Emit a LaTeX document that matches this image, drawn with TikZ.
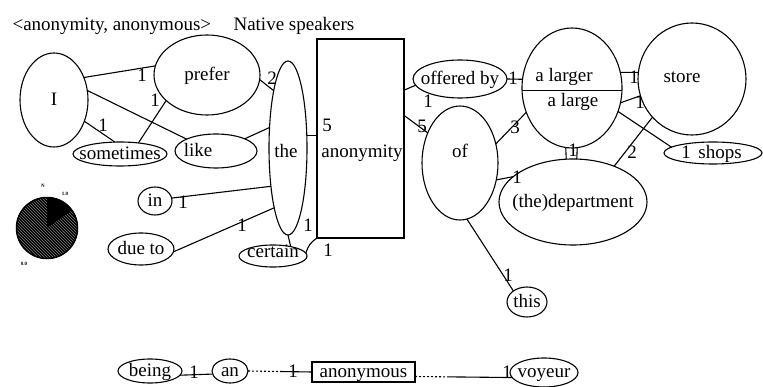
\documentclass[tikz,border=0pt]{standalone}
\usepackage{fontspec}
\setmainfont{Liberation Serif}
\usetikzlibrary{shapes.geometric,calc,patterns}

% Text of a shape node: takes no room, so the shape keeps its given size;
% optional horizontal and vertical offsets from the node centre.
\NewDocumentCommand\ctext{O{0pt}O{0pt}m}{%
  \kern#1\makebox[0pt]{\raisebox{\dimexpr#2-0.6ex\relax}[0pt][0pt]{#3}}\kern-#1}

\tikzset{
  ell/.style 2 args={ellipse, draw, inner sep=0pt, outer sep=0pt,
    minimum width=#1, minimum height=#2},
  box/.style 2 args={rectangle, draw, inner sep=0pt, outer sep=0pt,
    minimum width=#1, minimum height=#2},
  txt/.style={inner sep=0pt},
  num/.style={inner sep=0pt},
  tiny label/.style={inner sep=0pt, font=\fontsize{5}{5}\selectfont\bfseries},
  dotpart/.style={dash pattern=on 2pt off 2pt},
}

\begin{document}
\begin{tikzpicture}[x=1pt, y=-1pt, line width=1.1pt,
  font=\fontsize{19}{22}\selectfont]
\useasboundingbox (0,0) rectangle (763,387);

% heading
\node[txt, anchor=west] (title) at (12,26) {<anonymity, anonymous>};
\node[txt, anchor=west] (native) at (233,26) {Native speakers};

% left cluster
\node[ell={68}{94}]  (I)         at (54,100)  {\ctext{I}};
\node[ell={106}{80}] (prefer)    at (207,75)  {\ctext{prefer}};
\node[ell={38}{174}] (the)       at (288,148) {\ctext[-2pt][-4pt]{the}};
\node[ell={94}{24}]  (sometimes) at (120,154) {\ctext{sometimes}};
\node[ell={82}{34}]  (like)      at (216,151) {\ctext[-18pt]{like}};
\node[ell={34}{28}]  (in)        at (155,201) {\ctext{in}};
\node[ell={66}{32}]  (dueto)     at (141,249) {\ctext{due to}};
\node[ell={68}{22}]  (certain)   at (273,256) {\ctext[0pt][4pt]{certain}};

% central box
\node[box={87}{199}] (anon) at (360.5,138.5) {};
\node[txt] (anontext) at (362,153) {anonymity};

% right cluster
\node[ell={94}{38}]   (offered) at (460,79)  {\ctext{offered by}};
\node[ell={76}{114}]  (of)      at (460,163) {\ctext[0pt][11pt]{of}};
\node[ell={100}{120}] (alarger) at (572,88)  {};
\node[txt] (larger) at (564,77)  {a larger};
\node[txt] (large)  at (573,102) {a large};
\node[ell={108}{112}] (store)   at (692,79)  {\ctext[-10pt][2pt]{store}};
\node[ell={98}{22}]   (shops)   at (713,153) {\ctext[7pt]{shops}};
\node[ell={148}{86}]  (dept)    at (573,202) {\ctext{(the)department}};
\node[ell={40}{30}]   (this)    at (527,302) {\ctext{this}};

% bottom row
\node[ell={64}{24}]  (being)   at (150,371)   {\ctext{being}};
\node[ell={36}{24}]  (an)      at (230,371)   {\ctext{an}};
\node[box={103}{20}] (anonbox) at (363.5,372) {\ctext{anonymous}};
\node[ell={68}{29}]  (voyeur)  at (544,372.5) {\ctext{voyeur}};

% pie chart
\coordinate (pc) at (47,228);
\fill[black] (pc) circle[radius=31];
\fill[pattern=north west lines, pattern color=gray]
  (pc) -- ++(-35:31) arc[start angle=-35, end angle=270, radius=31] -- cycle;
\draw[line width=1.5pt] (pc) circle[radius=30.5];
\node[tiny label] (pn) at (43,186) {N};
\node[tiny label] (p1) at (65,194) {1.0};
\node[tiny label] (p0) at (24,264) {0.0};

% connectors, left
\draw (I.37) -- (prefer.170);
\draw (I.16) -- (like.158);
\draw (I.-35) -- (sometimes.113);
\draw (prefer.212) -- (sometimes.31);
\draw (prefer.-5) -- (the.104);
\draw (like.23) -- (the.132);
\draw (in.10) -- (the.246);
\draw (dueto.-5) -- (the.257);
\draw (the.south) -- (certain.28);
\draw (the.34) -- (the.34 -| anon.west);
\draw (anon.south west) to[bend right=20] (certain.5);

% connectors, right
\draw (anon.48) -- (offered.188);
\draw (anon.28) -- (of.137);
\draw (offered.east) -- (alarger.170);
\draw (alarger.183.5) -- (alarger.-3.5);
\draw (of.28) -- (alarger.208);
\draw (of.-25) -- (dept.157);
\draw (alarger.18) -- (store.173);
\draw (alarger.-17) -- (store.198);
\draw (alarger.-27) -- (shops.172);
\draw (alarger.264) -- (dept.99);
\draw (alarger.275) -- (dept.85);
\draw (store.224) -- (dept.41);
\draw (of.277) -- (this.141);

% connectors, bottom row
\draw (being.-8) -- (an.190);
\draw[dotpart] (an.east) -- ($(an.east)!0.5!(anonbox.west)$) coordinate (m1);
\draw (m1) -- (anonbox.west);
\draw[dotpart] (anonbox.-5.5) -- ($(anonbox.-5.5)!0.35!(voyeur.189)$) coordinate (m2);
\draw (m2) -- (voyeur.189);

% connector counts
\node[num] (n1)  at (142,75)  {1};
\node[num] (n2)  at (155,100) {1};
\node[num] (n3)  at (103,125) {1};
\node[num] (n4)  at (272,78)  {2};
\node[num] (n5)  at (183,202) {1};
\node[num] (n6)  at (242,225) {1};
\node[num] (n7)  at (308,225) {1};
\node[num] (n8)  at (328,250) {1};
\node[num] (n9)  at (327,125) {5};
\node[num] (n10) at (428,101) {1};
\node[num] (n11) at (422,126) {5};
\node[num] (n12) at (513,78)  {1};
\node[num] (n13) at (515,127) {3};
\node[num] (n14) at (517,177) {1};
\node[num] (n15) at (634,77)  {1};
\node[num] (n16) at (640,102) {1};
\node[num] (n17) at (573,150) {1};
\node[num] (n18) at (632,152) {2};
\node[num] (n19) at (686,152) {1};
\node[num] (n20) at (508,275) {1};
\node[num] (n21) at (194,372) {1};
\node[num] (n22) at (293,371) {1};
\node[num] (n23) at (507,372) {1};
\end{tikzpicture}
\end{document}
